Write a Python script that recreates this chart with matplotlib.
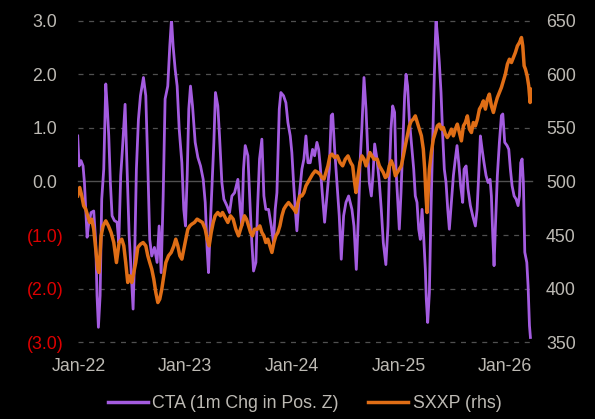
import matplotlib
matplotlib.use('Agg')
import matplotlib.pyplot as plt
from matplotlib.lines import Line2D

plt.rcParams['font.family'] = ['Liberation Sans', 'DejaVu Sans']

# ---------------- data (decimal years) ----------------
cta_t = [2021.992, 2022.005, 2022.023, 2022.042, 2022.055, 2022.067, 2022.080, 2022.092, 2022.117, 2022.142,
         2022.161, 2022.173, 2022.186, 2022.202, 2022.217, 2022.236, 2022.255, 2022.270, 2022.283, 2022.298,
         2022.314, 2022.336, 2022.361, 2022.377, 2022.395, 2022.411, 2022.436, 2022.452, 2022.474, 2022.492,
         2022.511, 2022.527, 2022.542, 2022.561, 2022.580, 2022.608, 2022.630, 2022.649, 2022.667, 2022.686,
         2022.711, 2022.736, 2022.755, 2022.774, 2022.793, 2022.811, 2022.836, 2022.855, 2022.871, 2022.886,
         2022.905, 2022.924, 2022.943, 2022.968, 2022.986, 2023.002, 2023.018, 2023.033, 2023.049, 2023.068,
         2023.093, 2023.118, 2023.143, 2023.168, 2023.187, 2023.205, 2023.218, 2023.233, 2023.249, 2023.268,
         2023.283, 2023.305, 2023.321, 2023.343, 2023.362, 2023.390, 2023.415, 2023.437, 2023.462,
         2023.493, 2023.515, 2023.530, 2023.546, 2023.562, 2023.587, 2023.609, 2023.624, 2023.640, 2023.662,
         2023.677, 2023.696, 2023.718, 2023.737, 2023.755, 2023.781, 2023.806, 2023.827, 2023.843, 2023.859,
         2023.881, 2023.896, 2023.921, 2023.943, 2023.962, 2023.984, 2023.999, 2024.015, 2024.031, 2024.046,
         2024.068, 2024.093, 2024.112, 2024.131, 2024.150, 2024.171, 2024.193, 2024.212, 2024.234, 2024.250,
         2024.265, 2024.281, 2024.306, 2024.328, 2024.350, 2024.368, 2024.381, 2024.400, 2024.422, 2024.443,
         2024.462, 2024.484, 2024.506, 2024.531, 2024.562, 2024.581, 2024.603, 2024.625, 2024.640, 2024.656,
         2024.675, 2024.694, 2024.712, 2024.725, 2024.744, 2024.759, 2024.775, 2024.797, 2024.819, 2024.837,
         2024.856, 2024.880, 2024.900, 2024.912, 2024.928, 2024.944, 2024.962, 2024.975, 2024.991, 2025.006,
         2025.022, 2025.037, 2025.056, 2025.069, 2025.084, 2025.100, 2025.119, 2025.141, 2025.156, 2025.172,
         2025.188, 2025.203, 2025.219, 2025.234, 2025.250, 2025.259, 2025.272, 2025.288, 2025.303, 2025.319,
         2025.334, 2025.350, 2025.366, 2025.381, 2025.397, 2025.413, 2025.428, 2025.444, 2025.460, 2025.475,
         2025.494, 2025.513, 2025.531, 2025.547, 2025.563, 2025.581, 2025.600, 2025.613, 2025.632, 2025.650,
         2025.672, 2025.694, 2025.719, 2025.735, 2025.750, 2025.766, 2025.782, 2025.800, 2025.819, 2025.838,
         2025.857, 2025.869, 2025.882, 2025.894, 2025.907, 2025.925, 2025.944, 2025.963, 2025.976, 2025.994,
         2026.016, 2026.032, 2026.047, 2026.063, 2026.082, 2026.101, 2026.119, 2026.132, 2026.144, 2026.157,
         2026.169, 2026.182, 2026.201, 2026.213, 2026.226, 2026.235]
cta_v = [0.85, 0.29, 0.39, 0.29, -0.02, -0.52, -1.04, -0.83, -0.58, -0.55,
         -1.14, -2.13, -2.72, -2.13, -0.33, 0.23, 1.82, 1.35, 0.85, -0.02,
         -0.64, -0.73, -0.76, -1.14, 0.11, 0.60, 1.44, 0.42, -1.01, -1.64,
         -2.38, -1.26, 0.23, 1.16, 1.60, 1.94, 1.60, 0.29, -1.08, -1.39,
         -1.23, -1.51, -0.83, -1.70, -0.27, 1.54, 1.78, 2.53, 3.03, 2.53,
         2.10, 1.78, 0.98, 0.35, -0.52, -0.83, 0.11, 1.35, 1.78, 1.41,
         0.73, 0.45, 0.29, 0.04, -0.39, -1.26, -1.70, -0.89, -0.14, 0.73,
         1.66, 1.41, 0.85, -0.02, -0.33, -0.45, -0.58, -0.27, -0.21,
         0.04, -0.52, -0.83, 0.23, 0.67, 0.48, -0.52, -1.14, -1.67, -1.51,
         -0.52, 0.42, 0.79, -0.27, -0.52, -0.52, -0.83, -1.14, -0.52, -0.21,
         1.35, 1.66, 1.60, 1.47, 1.10, 0.85, 0.54, -0.02, -0.52, -0.92,
         -0.27, 0.23, 0.42, 0.85, 0.35, 0.35, 0.60, 0.48, 0.73, 0.60,
         0.29, -0.14, -0.76, -0.27, 0.23, 1.23, 1.26, 0.60, -0.02, -0.64,
         -1.45, -0.64, -0.39, -0.27, -0.52, -0.83, -1.64, -0.52, 0.42, 1.04,
         1.94, 1.35, 0.48, -0.02, -0.27, 0.11, 0.70, 0.42, -0.02, -0.52,
         -1.14, -1.55, -0.83, 0.11, 0.98, 1.41, 1.29, 0.23, -0.33, -0.89,
         -0.21, 0.60, 1.60, 2.00, 1.78, 1.16, 0.73, 0.23, -0.27, -0.39,
         -0.89, -1.08, -0.52, -1.01, -1.64, -2.20, -2.63, -2.07, -0.52, 0.73,
         1.97, 3.03, 2.66, 2.22, 1.66, 0.85, 0.23, -0.02, -0.52, -0.89,
         -0.39, 0.11, 0.42, 0.67, 0.35, -0.08, -0.39, 0.23, 0.29, -0.14,
         -0.45, -0.64, -0.83, -0.52, 0.11, 0.85, 0.60, 0.35, 0.11, -0.02,
         0.04, -0.27, -1.01, -1.57, -0.83, 0.11, 0.73, 1.23, 1.26, 0.73,
         0.67, 0.60, 0.23, -0.08, -0.27, -0.33, -0.45, -0.27, 0.35, 0.42,
         -0.02, -1.32, -1.51, -1.95, -2.69, -2.91]

sxxp_t = [2021.992, 2022.011, 2022.030, 2022.048, 2022.067, 2022.086, 2022.105, 2022.123, 2022.142, 2022.161,
          2022.180, 2022.192, 2022.211, 2022.230, 2022.255, 2022.280, 2022.305, 2022.330, 2022.355, 2022.380,
          2022.405, 2022.424, 2022.442, 2022.461, 2022.480, 2022.499, 2022.517, 2022.536, 2022.555, 2022.580,
          2022.605, 2022.630, 2022.649, 2022.667, 2022.686, 2022.705, 2022.724, 2022.743, 2022.761, 2022.780,
          2022.799, 2022.818, 2022.843, 2022.868, 2022.893, 2022.911, 2022.930, 2022.949, 2022.968, 2022.986,
          2023.005, 2023.024, 2023.043, 2023.061, 2023.086, 2023.111, 2023.136, 2023.161, 2023.187, 2023.205,
          2023.224, 2023.243, 2023.262, 2023.280, 2023.305, 2023.330, 2023.349, 2023.374, 2023.399, 2023.424,
          2023.449, 2023.474, 2023.499, 2023.518, 2023.537, 2023.555, 2023.574, 2023.593, 2023.612, 2023.630,
          2023.649, 2023.674, 2023.699, 2023.718, 2023.737, 2023.755, 2023.774, 2023.793, 2023.812, 2023.831,
          2023.849, 2023.868, 2023.887, 2023.906, 2023.924, 2023.943, 2023.968, 2023.993, 2024.018, 2024.037,
          2024.056, 2024.074, 2024.093, 2024.112, 2024.131, 2024.149, 2024.175, 2024.193, 2024.218, 2024.243,
          2024.262, 2024.281, 2024.300, 2024.318, 2024.337, 2024.356, 2024.375, 2024.400, 2024.425, 2024.450,
          2024.475, 2024.500, 2024.525, 2024.550, 2024.569, 2024.587, 2024.600, 2024.619, 2024.637, 2024.656,
          2024.675, 2024.694, 2024.712, 2024.731, 2024.750, 2024.769, 2024.800, 2024.819, 2024.837, 2024.856,
          2024.875, 2024.894, 2024.912, 2024.931, 2024.950, 2024.969, 2024.987, 2025.006, 2025.025, 2025.044,
          2025.062, 2025.081, 2025.100, 2025.119, 2025.137, 2025.156, 2025.175, 2025.194, 2025.213, 2025.231,
          2025.244, 2025.256, 2025.266, 2025.275, 2025.288, 2025.306, 2025.325, 2025.344, 2025.363, 2025.381,
          2025.400, 2025.419, 2025.438, 2025.456, 2025.475, 2025.494, 2025.513, 2025.531, 2025.550, 2025.569,
          2025.588, 2025.607, 2025.625, 2025.644, 2025.663, 2025.682, 2025.700, 2025.719, 2025.738, 2025.757,
          2025.775, 2025.794, 2025.813, 2025.832, 2025.850, 2025.869, 2025.888, 2025.907, 2025.925, 2025.944,
          2025.963, 2025.982, 2026.000, 2026.019, 2026.038, 2026.057, 2026.076, 2026.094, 2026.113, 2026.132,
          2026.151, 2026.163, 2026.176, 2026.188, 2026.204, 2026.219, 2026.232, 2026.238]
sxxp_v = [486.6, 494.4, 486.6, 477.3, 474.2, 468.0, 461.8, 464.9, 455.5, 436.9,
          418.2, 415.1, 449.3, 458.6, 463.3, 458.6, 452.4, 443.1, 424.4, 443.1,
          446.2, 440.0, 424.4, 405.8, 412.0, 405.8, 415.1, 424.4, 438.4, 441.5,
          443.1, 440.0, 430.7, 424.4, 418.2, 408.9, 396.5, 387.1, 390.3, 399.6,
          412.0, 424.4, 430.7, 433.8, 440.0, 446.2, 440.0, 430.7, 427.6, 436.9,
          446.2, 455.5, 458.6, 460.2, 461.8, 464.9, 463.3, 461.8, 455.5, 446.2,
          440.0, 452.4, 461.8, 468.0, 471.1, 468.0, 471.1, 466.4, 461.8, 468.0,
          464.9, 455.5, 449.3, 455.5, 461.8, 468.0, 464.9, 458.6, 452.4, 449.3,
          455.5, 455.5, 458.6, 452.4, 449.3, 443.1, 446.2, 440.0, 433.8, 443.1,
          449.3, 452.4, 458.6, 468.0, 474.2, 477.3, 480.4, 477.3, 474.2, 471.1,
          480.4, 486.6, 486.6, 489.7, 496.0, 499.1, 503.7, 506.8, 509.9, 508.4,
          506.8, 503.7, 502.2, 508.4, 514.6, 523.9, 525.5, 522.4, 523.9, 517.7,
          514.6, 520.8, 523.9, 517.7, 514.6, 499.1, 489.7, 505.3, 517.7, 523.9,
          520.8, 514.6, 520.8, 527.0, 523.9, 520.8, 520.8, 514.6, 511.5, 508.4,
          503.7, 505.3, 514.6, 519.3, 514.6, 505.3, 508.4, 511.5, 514.6, 523.9,
          533.3, 542.6, 551.9, 556.6, 558.1, 561.2, 555.0, 548.8, 542.6, 530.2,
          511.5, 486.6, 471.1, 486.6, 511.5, 527.0, 539.5, 545.7, 551.9, 553.5,
          548.8, 550.4, 544.1, 541.0, 544.1, 548.8, 542.6, 548.8, 553.5, 545.7,
          537.9, 551.9, 555.0, 561.2, 548.8, 545.7, 555.0, 551.9, 558.1, 567.5,
          570.6, 575.2, 567.5, 576.8, 581.5, 570.6, 564.4, 572.1, 578.3, 583.0,
          587.7, 593.9, 600.1, 609.4, 614.1, 611.0, 615.7, 620.3, 626.5, 629.6,
          634.3, 626.5, 607.9, 604.8, 598.6, 589.2, 573.7, 586.1]

left_ticks = [-3.0, -2.0, -1.0, 0.0, 1.0, 2.0, 3.0]
right_ticks = [350, 400, 450, 500, 550, 600, 650]
x_ticks = [2022, 2023, 2024, 2025, 2026]
x_labels = ['Jan-22', 'Jan-23', 'Jan-24', 'Jan-25', 'Jan-26']
series_names = ['CTA (1m Chg in Pos. Z)', 'SXXP (rhs)']

# ---------------- style ----------------
PURPLE = '#a45ce0'
ORANGE = '#e06e16'
GRID = '#505050'
TXT = '#bdbab4'
RED = '#dd0000'
FS = 12.8

W, H = 595, 419
fig = plt.figure(figsize=(W / 100, H / 100), dpi=100, facecolor='black')
ax = fig.add_axes([77.5 / W, 1 - 342.3 / H, 454 / W, (342.3 - 20.7) / H])
ax.set_facecolor('black')

for y in left_ticks:
    if y == 0:
        ax.axhline(y, color=GRID, lw=1.0, ls='-', zorder=1, clip_on=False)
    else:
        ax.axhline(y, color=GRID, lw=0.9, ls=(0, (4.0, 4.5)), zorder=1, clip_on=False)

ax.plot(cta_t, cta_v, color=PURPLE, lw=2.0, zorder=3, solid_joinstyle='round')
ax.set_xlim(2021.99, 2026.245)
ax.set_ylim(-3, 3)

ax2 = ax.twinx()
ax2.plot(sxxp_t, sxxp_v, color=ORANGE, lw=2.5, zorder=4, solid_joinstyle='round')
ax2.set_ylim(350, 650)

for a in (ax, ax2):
    for s in a.spines.values():
        s.set_visible(False)

ax.set_xticks(x_ticks)
ax.set_xticklabels(x_labels)
ax.tick_params(axis='x', length=0, pad=11, labelsize=FS, labelcolor=TXT)

def fmt(v):
    return '({:.1f})'.format(-v) if v < 0 else '{:.1f}'.format(v)

ax.set_yticks(left_ticks)
ax.set_yticklabels([fmt(v) for v in left_ticks])
ax.tick_params(axis='y', length=0, pad=9.7, labelsize=FS)
for tick, v in zip(ax.yaxis.get_major_ticks(), left_ticks):
    if v < 0:
        tick.label1.set_color(RED)
    else:
        tick.label1.set_color(TXT)
        tick.set_pad(14.8)

ax2.set_yticks(right_ticks)
ax2.set_yticklabels([str(v) for v in right_ticks])
ax2.tick_params(axis='y', length=0, pad=10.4, labelsize=FS, labelcolor=TXT)

handles = [Line2D([0], [0], color=PURPLE, lw=2.5), Line2D([0], [0], color=ORANGE, lw=2.5)]
leg = fig.legend(handles, series_names, loc='center', bbox_to_anchor=(304.5 / W, 1 - 403.5 / H),
                 ncol=2, frameon=False, fontsize=FS, handlelength=2.25, handletextpad=0.24,
                 columnspacing=1.69, borderaxespad=0, borderpad=0)
for t in leg.get_texts():
    t.set_color(TXT)

fig.savefig('out.png', dpi=100, facecolor='black')
